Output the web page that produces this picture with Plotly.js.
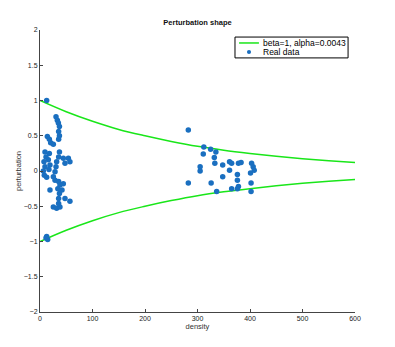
<!DOCTYPE html>
<html><head><meta charset="utf-8">
<script src="https://cdn.plot.ly/plotly-3.0.1.min.js"></script>
<style>html,body{margin:0;padding:0;background:#fff}#chart{width:395px;height:347px}</style>
</head><body><div id="chart"></div>
<script>
// Fitted curve
const curveX = [0, 50, 100, 150, 200, 250, 300, 350, 400, 450, 500, 550, 600];
const curveUpper = [1, 0.84, 0.705, 0.59, 0.50, 0.42, 0.35, 0.295, 0.25, 0.21, 0.175, 0.146, 0.122];
const curveLower = [-1, -0.84, -0.705, -0.59, -0.50, -0.42, -0.35, -0.295, -0.25, -0.21, -0.175, -0.146, -0.122];

// Real data
const densityX = [12.7, 30.5, 33, 35, 37, 35.5, 37, 35.5, 14, 17.8, 20.3, 25.4,
  9.5, 11.4, 7.6, 9.5, 6.3, 8.2, 12.7, 17.8, 15.9, 19, 17,
  37, 35.5, 31.7, 30.5, 28.6, 25.4, 28.6, 35.5, 38, 34, 37, 35.5, 19, 25.4, 31.7, 38, 35.5, 41.9, 44.4, 47.6, 57, 54, 57, 47.6, 44.4,
  12.7, 14.6, 11.4,
  282.5, 312, 325, 311, 335, 332, 333, 348, 305, 305, 361, 365, 378, 383, 403, 406, 408, 361, 401, 376, 376, 348, 282.5, 326, 402, 378, 365, 336.5, 402, 376];
const perturbY = [1.0, 0.77, 0.72, 0.68, 0.63, 0.56, 0.50, 0.45, 0.49, 0.45, 0.40, 0.38,
  0.27, 0.20, 0.13, 0.06, 0.0, -0.06, -0.09, 0.25, 0.16, 0.085, 0.02,
  0.27, 0.20, 0.13, 0.06, -0.01, -0.08, -0.13, -0.15, -0.20, -0.25, -0.32, -0.39, -0.27, -0.51, -0.53, -0.51, -0.46, -0.27, -0.18, -0.39, -0.43, 0.18, 0.13, 0.11, 0.18,
  -0.93, -0.97, -0.95,
  0.58, 0.34, 0.31, 0.24, 0.27, 0.19, 0.11, 0.085, 0.06, 0.0, 0.13, 0.11, 0.11, 0.12, 0.11, 0.06, 0.01, 0.01, -0.03, -0.05, -0.13, -0.08, -0.17, -0.17, -0.17, -0.22, -0.25, -0.29, -0.29, -0.25];

const legendLabels = ['beta=1, alpha=0.0043', 'Real data'];

const green = '#19e619';
const blue = '#1a6fc0';
const traces = [
  {x: curveX, y: curveUpper, mode: 'lines', line: {color: green, width: 1.5, shape: 'spline'}, name: legendLabels[0]},
  {x: curveX, y: curveLower, mode: 'lines', line: {color: green, width: 1.5, shape: 'spline'}, showlegend: false},
  {x: densityX, y: perturbY, mode: 'markers', marker: {color: blue, size: 5.5, symbol: 'circle'}, name: legendLabels[1]}
];
const axisCommon = {showgrid: false, zeroline: false, showline: true, linecolor: '#444', linewidth: 1,
  ticks: 'inside', ticklen: 3, tickcolor: '#444', tickfont: {size: 7, color: '#222', family: 'Liberation Sans, Arial'}};
const legFont = {size: 8.5, color: '#000', family: 'Liberation Sans, Arial'};
const layout = {
  width: 395, height: 347,
  margin: {l: 40, r: 40, t: 30, b: 35},
  paper_bgcolor: '#fff', plot_bgcolor: '#fff',
  font: {family: 'Liberation Sans, Arial', color: '#222'},
  title: {text: '<b>Perturbation shape</b>', font: {size: 7.5, color: '#111'}, x: 0.5, xref: 'paper', y: 0.935, yanchor: 'middle'},
  xaxis: Object.assign({}, axisCommon, {range: [0, 600], dtick: 100, title: {text: 'density', font: {size: 7.5, color: '#333'}, standoff: 2}}),
  yaxis: Object.assign({}, axisCommon, {range: [-2, 2], dtick: 0.5, title: {text: 'perturbation', font: {size: 7.5, color: '#333'}, standoff: 1}}),
  showlegend: false,
  shapes: [
    {type: 'rect', xref: 'paper', yref: 'paper', x0: 0.619, x1: 0.978, y0: 0.901, y1: 0.975, line: {color: '#000', width: 1}, fillcolor: '#fff'},
    {type: 'line', xref: 'paper', yref: 'paper', x0: 0.632, x1: 0.695, y0: 0.954, y1: 0.954, line: {color: green, width: 1.5}},
    {type: 'circle', xref: 'paper', yref: 'paper', x0: 0.657, x1: 0.670, y0: 0.915, y1: 0.929, line: {width: 0}, fillcolor: blue}
  ],
  annotations: [
    {xref: 'paper', yref: 'paper', x: 0.703, y: 0.954, xanchor: 'left', yanchor: 'middle', text: legendLabels[0], showarrow: false, font: legFont},
    {xref: 'paper', yref: 'paper', x: 0.703, y: 0.922, xanchor: 'left', yanchor: 'middle', text: legendLabels[1], showarrow: false, font: legFont}
  ]
};
Plotly.newPlot('chart', traces, layout, {displayModeBar: false, staticPlot: true});
</script></body></html>
